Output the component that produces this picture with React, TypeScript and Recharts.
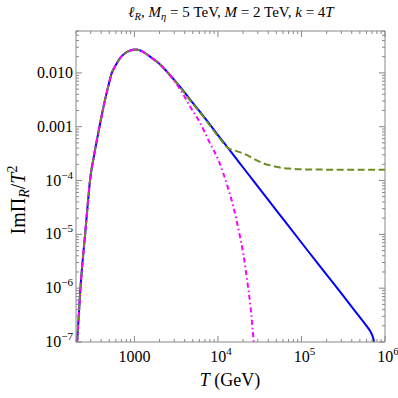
import React from "react";
import { LineChart, Line, XAxis, YAxis } from "recharts";

const W = 398;
const H = 398;
const FONT = '"Liberation Serif", "Times New Roman", serif';
const FRAME = "#888";

// blue solid curve
const tBlue = [206, 215, 225, 240, 257, 275, 294, 330, 382, 410, 450, 490, 536, 580, 630, 673, 773, 880, 1018, 1180, 1406, 1600, 1850, 2150, 2440, 3000, 3600, 4640, 5840, 7500, 10000, 13300, 18000, 26500, 50000, 121000, 250000, 400000, 504000, 600000, 660000, 700000, 727000, 738000];
const yBlue = [1e-7, 2.8e-7, 9e-7, 3.2e-6, 1e-5, 3.3e-5, 1e-4, 3.0e-4, 1e-3, 1.74e-3, 3.4e-3, 5.9e-3, 0.01, 0.0128, 0.0159, 0.0188, 0.0232, 0.0258, 0.0272, 0.026, 0.0222, 0.0192, 0.0162, 0.0131, 0.0106, 0.0074, 0.0053, 0.0032, 0.00205, 0.00126, 0.0007, 0.000396, 0.000216, 0.0000995, 0.000028, 0.0000048, 1.15e-6, 4.5e-7, 2.85e-7, 2.0e-7, 1.62e-7, 1.35e-7, 1.14e-7, 1e-7];

// olive dashed curve
const tOlive = [206, 215, 225, 240, 257, 275, 294, 330, 382, 410, 450, 490, 536, 580, 630, 673, 773, 880, 1018, 1180, 1406, 1600, 1850, 2150, 2440, 3000, 3600, 4640, 5840, 7500, 10000, 13300, 16000, 22100, 28000, 35000, 45000, 55400, 75000, 96400, 150000, 300000, 1000000];
const yOlive = [1e-7, 2.8e-7, 9e-7, 3.2e-6, 1e-5, 3.3e-5, 1e-4, 3.0e-4, 1e-3, 1.74e-3, 3.4e-3, 5.9e-3, 0.01, 0.0128, 0.0159, 0.0188, 0.0232, 0.0258, 0.0272, 0.026, 0.0222, 0.0192, 0.0162, 0.0131, 0.0106, 0.0073, 0.0052, 0.0031, 0.002, 0.00121, 0.00067, 0.0004, 0.00036, 0.000299, 0.000245, 0.000209, 0.000187, 0.000174, 0.000166, 0.000162, 0.00016, 0.000159, 0.000159];

// magenta dash-dot curve
const tMagenta = [206, 215, 225, 240, 257, 275, 294, 330, 382, 410, 450, 490, 536, 580, 630, 673, 773, 880, 1018, 1180, 1406, 1600, 1850, 2150, 2440, 3000, 3600, 4640, 5840, 8050, 10100, 13300, 15300, 18000, 20200, 22500, 24300, 25800, 26800];
const yMagenta = [1e-7, 2.8e-7, 9e-7, 3.2e-6, 1e-5, 3.3e-5, 1e-4, 3.0e-4, 1e-3, 1.74e-3, 3.4e-3, 5.9e-3, 0.01, 0.0128, 0.0159, 0.0188, 0.0232, 0.0258, 0.0272, 0.026, 0.0222, 0.0192, 0.0162, 0.0131, 0.0106, 0.0071, 0.0047, 0.00237, 0.00134, 0.00049, 0.000242, 0.00007, 0.0000327, 0.0000105, 4.2e-6, 1.3e-6, 5.2e-7, 2.0e-7, 1e-7];

const xMajor = [1000, 1e4, 1e5, 1e6];
const xMajorLabels = [["1000", ""], ["10", "4"], ["10", "5"], ["10", "6"]];
const yMajor = [1e-7, 1e-6, 1e-5, 1e-4, 1e-3, 1e-2];
const yMajorLabels = [["10", "\u22127"], ["10", "\u22126"], ["10", "\u22125"], ["10", "\u22124"], ["0.001", ""], ["0.010", ""]];

const xDomain = [200, 1e6];
const yDomain = [1e-7, 0.06];

function logTicks(lo: number, hi: number) {
  const out: number[] = [];
  for (let e = Math.floor(Math.log10(lo)); e <= Math.ceil(Math.log10(hi)); e++) {
    for (let m = 1; m < 10; m++) {
      const v = m * Math.pow(10, e);
      if (v >= lo * 0.9999 && v <= hi * 1.0001) out.push(v);
    }
  }
  return out;
}

const xTicks = logTicks(xDomain[0], xDomain[1]);
const yTicks = logTicks(yDomain[0], yDomain[1]);

const toData = (ts: number[], vs: number[]) => ts.map((t, i) => ({ t, v: vs[i] }));

const findMajor = (majors: number[], v: number) => majors.findIndex((m) => Math.abs(v / m - 1) < 1e-6);

function makeTick(side: "bottom" | "top" | "left" | "right", majors: number[], labels: string[][] | null) {
  return (props: any) => {
    const { x, y, payload } = props;
    const idx = findMajor(majors, payload.value);
    const len = idx >= 0 ? 6 : 3;
    let line;
    if (side === "bottom") line = <line x1={x} x2={x} y1={y} y2={y - len} />;
    else if (side === "top") line = <line x1={x} x2={x} y1={y} y2={y + len} />;
    else if (side === "left") line = <line x1={x} x2={x + len} y1={y} y2={y} />;
    else line = <line x1={x} x2={x - len} y1={y} y2={y} />;
    let label = null;
    if (labels && idx >= 0) {
      const [base, sup] = labels[idx];
      if (side === "bottom") {
        label = (
          <text x={x + (sup ? 3 : 0)} y={y + 20} textAnchor="middle" fontSize={16} fill="#000" stroke="none" fontFamily={FONT}>
            {base}
            {sup && <tspan dy={-7} fontSize={11}>{sup}</tspan>}
          </text>
        );
      } else {
        label = (
          <text x={x - 3} y={y + 5} textAnchor="end" fontSize={16} fill="#000" stroke="none" fontFamily={FONT}>
            {base}
            {sup && <tspan dy={-7} fontSize={11}>{sup}</tspan>}
          </text>
        );
      }
    }
    return (
      <g stroke={FRAME} strokeWidth={1}>
        {line}
        {label}
      </g>
    );
  };
}

export default function App() {
  return (
    <div style={{ position: "absolute", left: 0, top: 0, width: W, height: H, background: "#fff" }}>
      <LineChart width={W} height={H} margin={{ top: 30, right: 12, bottom: 55, left: 75 }}>
        <XAxis dataKey="t" type="number" scale="log" domain={xDomain} allowDataOverflow ticks={xTicks} interval={0}
          height={1} tickSize={0} tickMargin={0} tickLine={false} axisLine={{ stroke: FRAME }}
          tick={makeTick("bottom", xMajor, xMajorLabels)} />
        <XAxis xAxisId="top" orientation="top" dataKey="t" type="number" scale="log" domain={xDomain} allowDataOverflow ticks={xTicks} interval={0}
          height={1} tickSize={0} tickMargin={0} tickLine={false} axisLine={{ stroke: FRAME }}
          tick={makeTick("top", xMajor, null)} />
        <YAxis type="number" scale="log" domain={yDomain} allowDataOverflow ticks={yTicks} interval={0}
          width={1} tickSize={0} tickMargin={0} tickLine={false} axisLine={{ stroke: FRAME }}
          tick={makeTick("left", yMajor, yMajorLabels)} />
        <YAxis yAxisId="right" orientation="right" type="number" scale="log" domain={yDomain} allowDataOverflow ticks={yTicks} interval={0}
          width={1} tickSize={0} tickMargin={0} tickLine={false} axisLine={{ stroke: FRAME }}
          tick={makeTick("right", yMajor, null)} />
        <Line data={toData(tBlue, yBlue)} dataKey="v" type="monotone" stroke="#0000ff" strokeWidth={2} dot={false} isAnimationActive={false} />
        <Line data={toData(tOlive, yOlive)} dataKey="v" type="monotone" stroke="#6b8e23" strokeWidth={2} strokeDasharray="7 3.5" dot={false} isAnimationActive={false} />
        <Line data={toData(tMagenta, yMagenta)} dataKey="v" type="monotone" stroke="#ff00ff" strokeWidth={2} strokeDasharray="5 3 1.5 3" dot={false} isAnimationActive={false} />
      </LineChart>
      <svg width={W} height={H} style={{ position: "absolute", left: 0, top: 0, pointerEvents: "none" }} fontFamily={FONT}>
        <text x={231} y={17} textAnchor="middle" fontSize={15}>
          <tspan fontStyle="italic">ℓ</tspan>
          <tspan fontStyle="italic" fontSize={10.5} dy={3}>R</tspan>
          <tspan dy={-3}>,  </tspan>
          <tspan fontStyle="italic">M</tspan>
          <tspan fontStyle="italic" fontSize={10.5} dy={3}>η</tspan>
          <tspan dy={-3}> = 5 TeV, </tspan>
          <tspan fontStyle="italic">M</tspan>
          <tspan> = 2 TeV, </tspan>
          <tspan fontStyle="italic">k</tspan>
          <tspan> = 4</tspan>
          <tspan fontStyle="italic">T</tspan>
        </text>
        <text transform="translate(25,200) rotate(-90)" textAnchor="middle" fontSize={20}>
          <tspan>ImΠ</tspan>
          <tspan fontStyle="italic" fontSize={14} dy={4}>R</tspan>
          <tspan dy={-4}>/</tspan>
          <tspan fontStyle="italic">T</tspan>
          <tspan fontSize={14} dy={-8}>2</tspan>
        </text>
        <text x={230} y={386} textAnchor="middle" fontSize={18}>
          <tspan fontStyle="italic">T</tspan>
          <tspan> (GeV)</tspan>
        </text>
      </svg>
    </div>
  );
}
